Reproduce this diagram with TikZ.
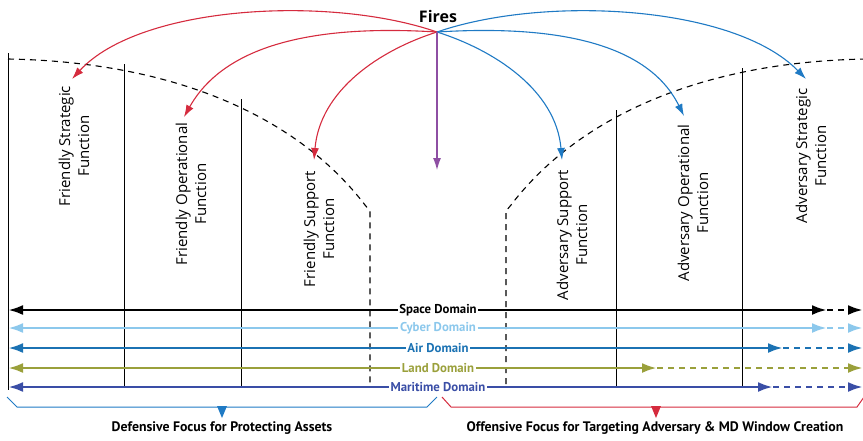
\documentclass[tikz,border=0pt]{standalone}
\usepackage{fontspec}
\setmainfont{Open Sans}
\newfontfamily\dfont{PT Sans}
\usetikzlibrary{arrows.meta}
\definecolor{fred}{HTML}{D52B3E}
\definecolor{fblue}{HTML}{1F7AC4}
\definecolor{fpurple}{HTML}{8E4FA3}
\definecolor{cyb}{HTML}{8CC8EC}
\definecolor{air}{HTML}{1B72B3}
\definecolor{land}{HTML}{9AA03B}
\definecolor{mar}{HTML}{3A4EA6}
\begin{document}
\begin{tikzpicture}[x=1pt,y=-1pt,
  func/.style={rotate=90,align=center,font=\fontsize{15}{19}\selectfont,inner sep=0pt},
  vline/.style={line width=1pt,black},
  dline/.style={line width=1.1pt,black,dash pattern=on 6pt off 5pt},
  firearrow/.style={line width=1.1pt,-{Latex[length=12pt,width=8pt]}},
  dom/.style={line width=2.8pt,-{Latex[length=15pt,width=10pt]}},
  domd/.style={line width=2.8pt,dash pattern=on 6pt off 5pt,-{Latex[length=15pt,width=10pt]}},
  dlabel/.style={font=\dfont\bfseries\fontsize{12.8}{14}\selectfont,inner sep=1.5pt},
  caption/.style={font=\dfont\bfseries\fontsize{13.8}{15}\selectfont,inner sep=0pt},
  brace/.style={line width=1pt}]
\useasboundingbox (0,0) rectangle (863,440);

% vertical lines
\draw[vline] (8,53) -- (8,390);
\draw[vline] (124,64) -- (124,387);
\draw[vline] (241,99) -- (241,387);
\draw[vline] (616,110) -- (616,387);
\draw[vline] (742,68) -- (742,387);

% dashed envelopes
\draw[dline] (8,59) .. controls (180,62) and (300,120) .. (365,205) -- (370,211) -- (370,384);
\draw[dline] (866,59) .. controls (696,62) and (576,120) .. (511,205) -- (506,211) -- (506,384);

% function labels
\node[func] (fs) at (74,146) {Friendly Strategic\\Function};
\node[func] (fo) at (191,194) {Friendly Operational\\Function};
\node[func] (fsu) at (319,229) {Friendly Support\\Function};
\node[func] (asu) at (572,235) {Adversary Support\\Function};
\node[func] (ao) at (693,203) {Adversary Operational\\Function};
\node[func] (as) at (811,156) {Adversary Strategic\\Function};

% Fires
\node[font=\bfseries\fontsize{16}{18}\selectfont,inner sep=0pt] (fires) at (438,16) {Fires};
\coordinate (o) at (437,32);
\coordinate (tfs) at (72,79);
\coordinate (tfo) at (184,117);
\coordinate (tfsu) at (314,160);
\coordinate (tasu) at (562,160);
\coordinate (tao) at (684,116);
\coordinate (tas) at (806,79);
\coordinate (tdown) at (437,170);

\draw[firearrow,fred] (o) .. controls (330,-5) and (140,5) .. (tfs);
\draw[firearrow,fred] (o) .. controls (340,26) and (230,35) .. (tfo);
\draw[firearrow,fred] (o) .. controls (380,50) and (320,90) .. (tfsu);
\draw[firearrow,fblue] (o) .. controls (544,-5) and (734,5) .. (tas);
\draw[firearrow,fblue] (o) .. controls (534,26) and (644,35) .. (tao);
\draw[firearrow,fblue] (o) .. controls (494,50) and (556,90) .. (tasu);
\draw[firearrow,fpurple] (o) -- (tdown);

% domains
\node[dlabel,text=black] (sp) at (438,310) {Space Domain};
\node[dlabel,text=cyb] (cy) at (438,328) {Cyber Domain};
\node[dlabel,text=air] (ai) at (438,348) {Air Domain};
\node[dlabel,text=land] (la) at (438,368) {Land Domain};
\node[dlabel,text=mar] (ma) at (438,387) {Maritime Domain};

\coordinate (spL) at (8,310);  \coordinate (spR) at (827,310); \coordinate (spE) at (863,310);
\coordinate (cyL) at (8,328);  \coordinate (cyR) at (827,328); \coordinate (cyE) at (863,328);
\coordinate (aiL) at (8,348);  \coordinate (aiR) at (783,348); \coordinate (aiE) at (863,348);
\coordinate (laL) at (8,368);  \coordinate (laR) at (657,368); \coordinate (laE) at (863,368);
\coordinate (maL) at (8,387);  \coordinate (maR) at (773,387); \coordinate (maE) at (863,387);

\draw[dom,black] (sp.west) -- (spL);
\draw[dom,black] (sp.east) -- (spR);
\draw[domd,black] (spR) -- (spE);
\draw[dom,cyb] (cy.west) -- (cyL);
\draw[dom,cyb] (cy.east) -- (cyR);
\draw[domd,cyb] (cyR) -- (cyE);
\draw[dom,air] (ai.west) -- (aiL);
\draw[dom,air] (ai.east) -- (aiR);
\draw[domd,air] (aiR) -- (aiE);
\draw[dom,land] (la.west) -- (laL);
\draw[dom,land] (la.east) -- (laR);
\draw[domd,land] (laR) -- (laE);
\draw[dom,mar] (ma.west) -- (maL);
\draw[dom,mar] (ma.east) -- (maR);
\draw[domd,mar] (maR) -- (maE);

% braces
\draw[brace,fblue] (7,397) -- (17,407) -- (427,407) -- (437,397);
\fill[fblue] (217,406) -- (227,406) -- (222,418) -- cycle;
\draw[brace,fred] (442,397) -- (451,407) -- (857,407) -- (864,397);
\fill[fred] (651,406) -- (661,406) -- (656,418) -- cycle;

\node[caption] (dc) at (222,428) {Defensive Focus for Protecting Assets};
\node[caption] (oc) at (655,428) {Offensive Focus for Targeting Adversary \& MD Window Creation};
\end{tikzpicture}
\end{document}
